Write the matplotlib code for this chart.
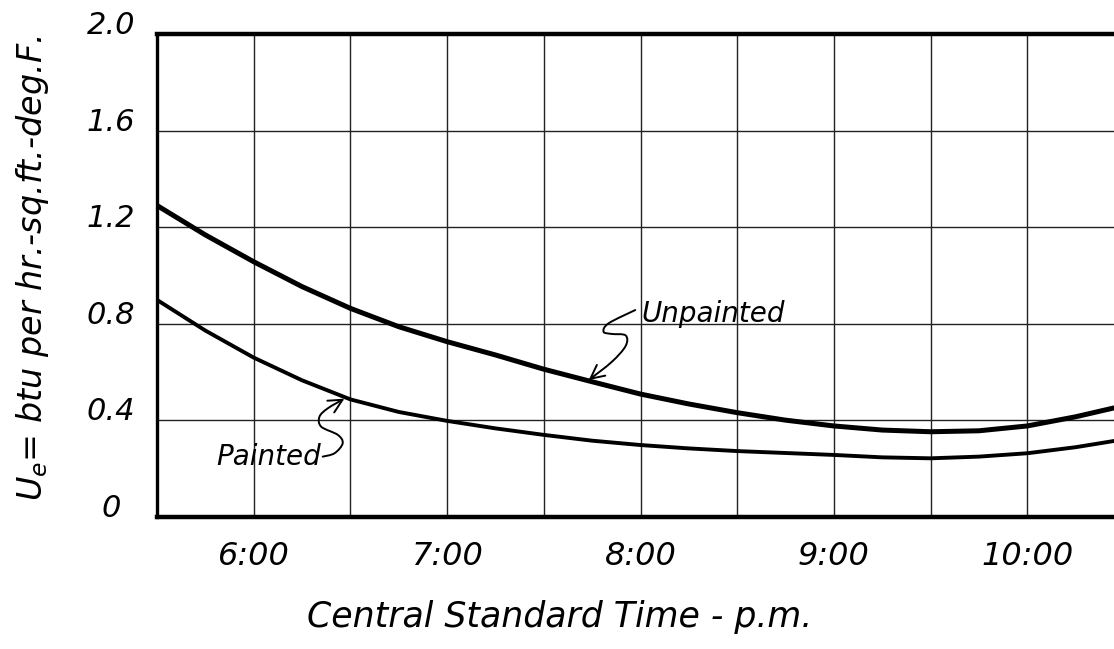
import numpy as np
import matplotlib
matplotlib.use("Agg")
import matplotlib.pyplot as plt
from matplotlib.path import Path
from matplotlib.patches import FancyArrowPatch

# ---- data ----
hours = [5.5, 5.75, 6.0, 6.25, 6.5, 6.75, 7.0, 7.25, 7.5, 7.75, 8.0,
         8.25, 8.5, 8.75, 9.0, 9.25, 9.5, 9.75, 10.0, 10.25, 10.45]
unpainted = [1.29, 1.168, 1.057, 0.954, 0.864, 0.788, 0.726, 0.671, 0.612,
             0.560, 0.509, 0.468, 0.432, 0.401, 0.377, 0.360, 0.353, 0.357,
             0.377, 0.415, 0.452]
painted = [0.899, 0.772, 0.660, 0.566, 0.487, 0.435, 0.398, 0.367, 0.340,
           0.316, 0.298, 0.284, 0.273, 0.265, 0.257, 0.247, 0.243, 0.250,
           0.264, 0.289, 0.315]

xtick_vals = [6, 7, 8, 9, 10]
xtick_labels = ["6:00", "7:00", "8:00", "9:00", "10:00"]
ytick_vals = [0, 0.4, 0.8, 1.2, 1.6, 2.0]
ytick_labels = ["0", "0.4", "0.8", "1.2", "1.6", "2.0"]

# annotation squiggles (data coordinates)
unp_label_pos = (8.005, 0.807)
unp_squiggle = [(7.973, 0.857), (7.835, 0.802), (7.809, 0.767), (7.851, 0.758),
                (7.923, 0.752), (7.923, 0.708), (7.851, 0.642), (7.732, 0.567)]
pnt_label_pos = (6.35, 0.215)
pnt_squiggle = [(6.357, 0.250), (6.418, 0.264), (6.460, 0.305), (6.435, 0.340),
                (6.349, 0.374), (6.340, 0.415), (6.383, 0.450), (6.469, 0.490)]

FONT = "DejaVu Sans"
plt.rcParams["font.family"] = FONT

fig = plt.figure(figsize=(11.14, 6.49), dpi=100)
W, H = 1114, 649
ax = fig.add_axes([157 / W, (H - 517) / H, 967 / W, 483 / H])

ax.set_xlim(5.5, 10.5)
ax.set_ylim(0, 2.0)

ax.plot(hours, unpainted, color="black", lw=3.6, solid_capstyle="butt",
        solid_joinstyle="round", zorder=3)
ax.plot(hours, painted, color="black", lw=2.8, solid_capstyle="butt",
        solid_joinstyle="round", zorder=3)

# grid
ax.set_xticks(xtick_vals)
ax.set_xticks(np.arange(5.5, 10.51, 0.5), minor=True)
ax.set_xticklabels(xtick_labels, fontsize=23, style="italic")
ax.set_yticks(ytick_vals)
ax.set_yticklabels(ytick_labels, fontsize=22, style="italic")
ax.grid(True, which="both", color="#222222", lw=1.0)
ax.tick_params(which="both", length=0)
ax.tick_params(axis="x", pad=17)
ax.tick_params(axis="y", pad=33)
for lbl in ax.get_yticklabels():
    lbl.set_ha("center")
    lbl.set_va("baseline")

ax.spines["left"].set_linewidth(2.4)
ax.spines["top"].set_linewidth(3.2)
ax.spines["bottom"].set_linewidth(3.2)
ax.spines["right"].set_visible(False)


def smooth_path(pts):
    P = np.array(pts, dtype=float)
    n = len(P)
    verts = [P[0]]
    codes = [Path.MOVETO]
    for i in range(n - 1):
        p0 = P[i - 1] if i > 0 else P[i]
        p1 = P[i]
        p2 = P[i + 1]
        p3 = P[i + 2] if i + 2 < n else P[i + 1]
        c1 = p1 + (p2 - p0) / 6.0
        c2 = p2 - (p3 - p1) / 6.0
        verts += [c1, c2, p2]
        codes += [Path.CURVE4] * 3
    return Path(verts, codes)


for pts in (unp_squiggle, pnt_squiggle):
    arr = FancyArrowPatch(path=smooth_path(pts), arrowstyle="->,head_length=0.7,head_width=0.35",
                          mutation_scale=14, lw=1.4, color="black", zorder=4)
    ax.add_patch(arr)

ax.text(*unp_label_pos, "Unpainted", fontsize=20, style="italic", ha="left", va="baseline", zorder=5)
ax.text(*pnt_label_pos, "Painted", fontsize=20, style="italic", ha="right", va="baseline", zorder=5)

fig.text(560 / W, 1 - 617 / H, "Central Standard Time - p.m.", fontsize=25, style="italic",
         ha="center", va="center")
fig.text(33 / W, 1 - 268 / H, r"$U_e$= btu per hr.-sq.ft.-deg.F.", fontsize=24, style="italic",
         rotation=90, ha="center", va="center")

fig.savefig("out.png", dpi=100)
